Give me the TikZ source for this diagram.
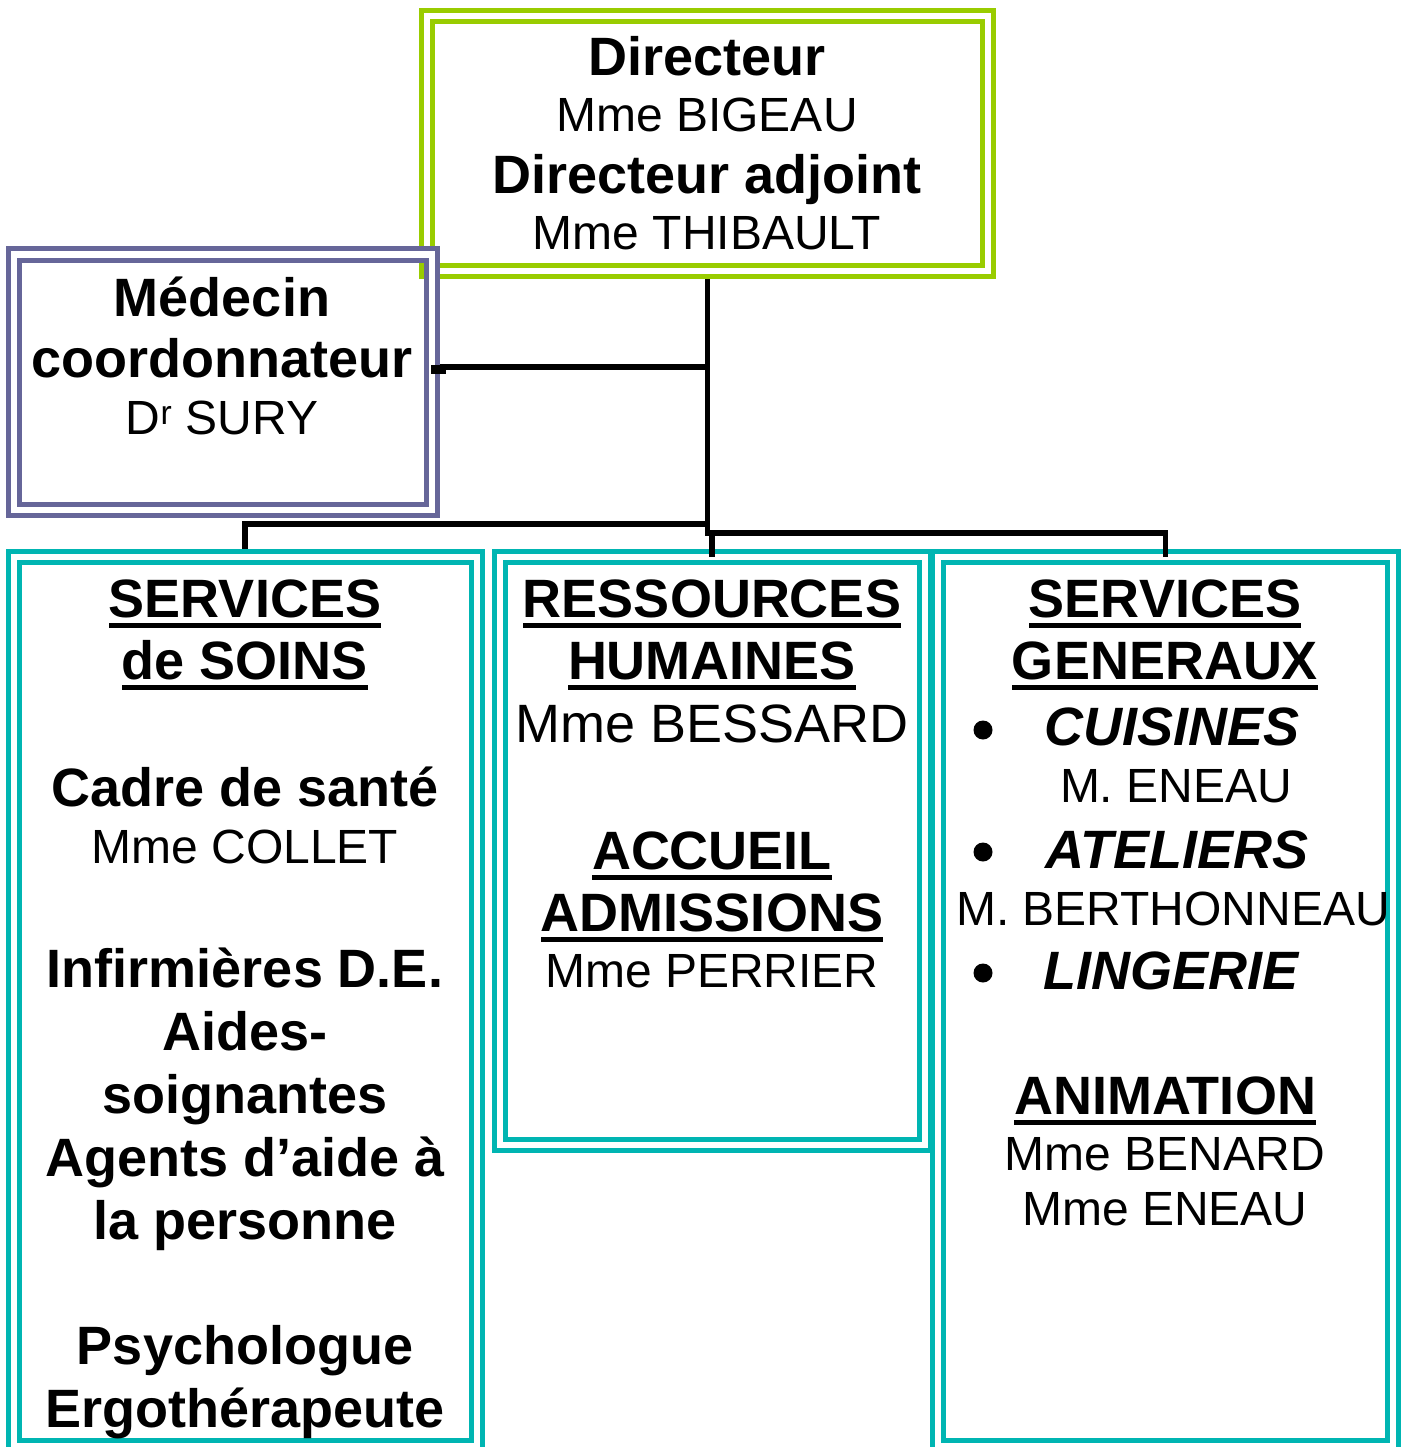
\documentclass[tikz,border=0pt]{standalone}
\usepackage{fontspec}
\setmainfont{Liberation Sans}
\definecolor{grn}{RGB}{153,204,0}
\definecolor{pur}{RGB}{102,102,153}
\definecolor{tea}{RGB}{0,181,178}
\newcommand\fB{\fontsize{54}{60}\selectfont\bfseries}
\newcommand\fBI{\fontsize{54}{60}\selectfont\bfseries\itshape}
\newcommand\fN{\fontsize{48}{56}\selectfont}
\newcommand\ulx[1]{\setbox0\hbox{#1}\rlap{\rule[-11pt]{\wd0}{5.5pt}}\box0}
\begin{document}
\begin{tikzpicture}[x=1pt,y=-1pt,
  box/.style={draw=#1, double=white, double distance=6pt, line width=5pt, rectangle, inner sep=0pt, outer sep=8pt, anchor=north west},
  txt/.style={anchor=base, inner sep=0pt, outer sep=0pt},
  conn/.style={draw=black, line width=5.5pt},
  bul/.style={circle, fill=black, minimum size=19pt, inner sep=0pt}]
\clip (0,0) rectangle (1405,1447);
\fill[white] (0,0) rectangle (1405,1447);
% boxes (position = border mid-line corner minus outer sep)
\node[box=grn, minimum width=560.5pt, minimum height=255pt] (dir) at (419,8) {};
\node[box=pur, minimum width=418pt, minimum height=255pt] (med) at (5.5,246.5) {};
\node[box=tea, minimum width=463pt, minimum height=889.5pt] (soins) at (5.5,548.5) {};
\node[box=tea, minimum width=425pt, minimum height=588pt] (rh) at (491.5,548.5) {};
\node[box=tea, minimum width=455.5pt, minimum height=889.5pt] (sg) at (929.5,548.5) {};
% connectors
\coordinate (jm) at (dir.south |- 0,367);
\coordinate (b1) at (dir.south |- 0,524);
\coordinate (b2) at (dir.south |- 0,533);
\coordinate (bend) at (dir.south |- 0,535.5);
\draw[conn] (dir.south) -- (bend);
\draw[conn] (jm) -- (jm -| med.east);
\fill (jm -| med.east) ++(-9,-2) rectangle ++(15,9);
\draw[conn] (b1) -| (soins.north);
\draw[conn] (b2) -| ([yshift=-8pt]sg.north);
\draw[conn] (b2 -| rh.north) -- ([yshift=-8pt]rh.north);
% top box text
\node[txt] (t1) at (707,76) {\fB Directeur};
\node[txt] (t2) at (707,132) {\fN Mme BIGEAU};
\node[txt] (t3) at (707,194) {\fB Directeur adjoint};
\node[txt] (t4) at (707,250) {\fN Mme THIBAULT};
% medecin
\node[txt] (m1) at (222,316) {\fB Médecin};
\node[txt] (m2) at (222,377) {\fB coordonnateur};
\node[txt] (m3) at (222,434) {\fN D\textsuperscript{r} SURY};
% soins
\node[txt] (s1) at (245,617) {\fB\ulx{SERVICES}};
\node[txt] (s2) at (245,679) {\fB\ulx{de SOINS}};
\node[txt] (s3) at (245,806) {\fB Cadre de santé};
\node[txt] (s4) at (245,863) {\fN Mme COLLET};
\node[txt] (s5) at (245,987) {\fB Infirmières D.E.};
\node[txt] (s6) at (245,1050) {\fB Aides-};
\node[txt] (s7) at (245,1113) {\fB soignantes};
\node[txt] (s8) at (245,1176) {\fB Agents d’aide à};
\node[txt] (s9) at (245,1239) {\fB la personne};
\node[txt] (s10) at (245,1364) {\fB Psychologue};
\node[txt] (s11) at (245,1427) {\fB Ergothérapeute};
% ressources humaines
\node[txt] (r1) at (712,617) {\fB\ulx{RESSOURCES}};
\node[txt] (r2) at (712,679) {\fB\ulx{HUMAINES}};
\node[txt] (r3) at (712,742) {\fontsize{54}{60}\selectfont Mme BESSARD};
\node[txt] (r4) at (712,869) {\fB\ulx{ACCUEIL}};
\node[txt] (r5) at (712,931) {\fB\ulx{ADMISSIONS}};
\node[txt] (r6) at (712,987) {\fN Mme PERRIER};
% services generaux
\node[txt] (g1) at (1165,617) {\fB\ulx{SERVICES}};
\node[txt] (g2) at (1165,679) {\fB\ulx{GENERAUX}};
\node[bul] (d1) at (983,730) {};
\node[bul] (d2) at (983,852) {};
\node[bul] (d3) at (983,973) {};
\node[txt] (g3) at (1172,745) {\fBI CUISINES};
\node[txt] (g4) at (1176,802) {\fN M. ENEAU};
\node[txt] (g5) at (1177,868) {\fBI ATELIERS};
\node[txt] (g6) at (1173,925) {\fN M. BERTHONNEAU};
\node[txt] (g7) at (1171,989) {\fBI LINGERIE};
\node[txt] (g8) at (1165,1114) {\fB\ulx{ANIMATION}};
\node[txt] (g9) at (1165,1170) {\fN Mme BENARD};
\node[txt] (g10) at (1165,1225) {\fN Mme ENEAU};
\end{tikzpicture}
\end{document}
